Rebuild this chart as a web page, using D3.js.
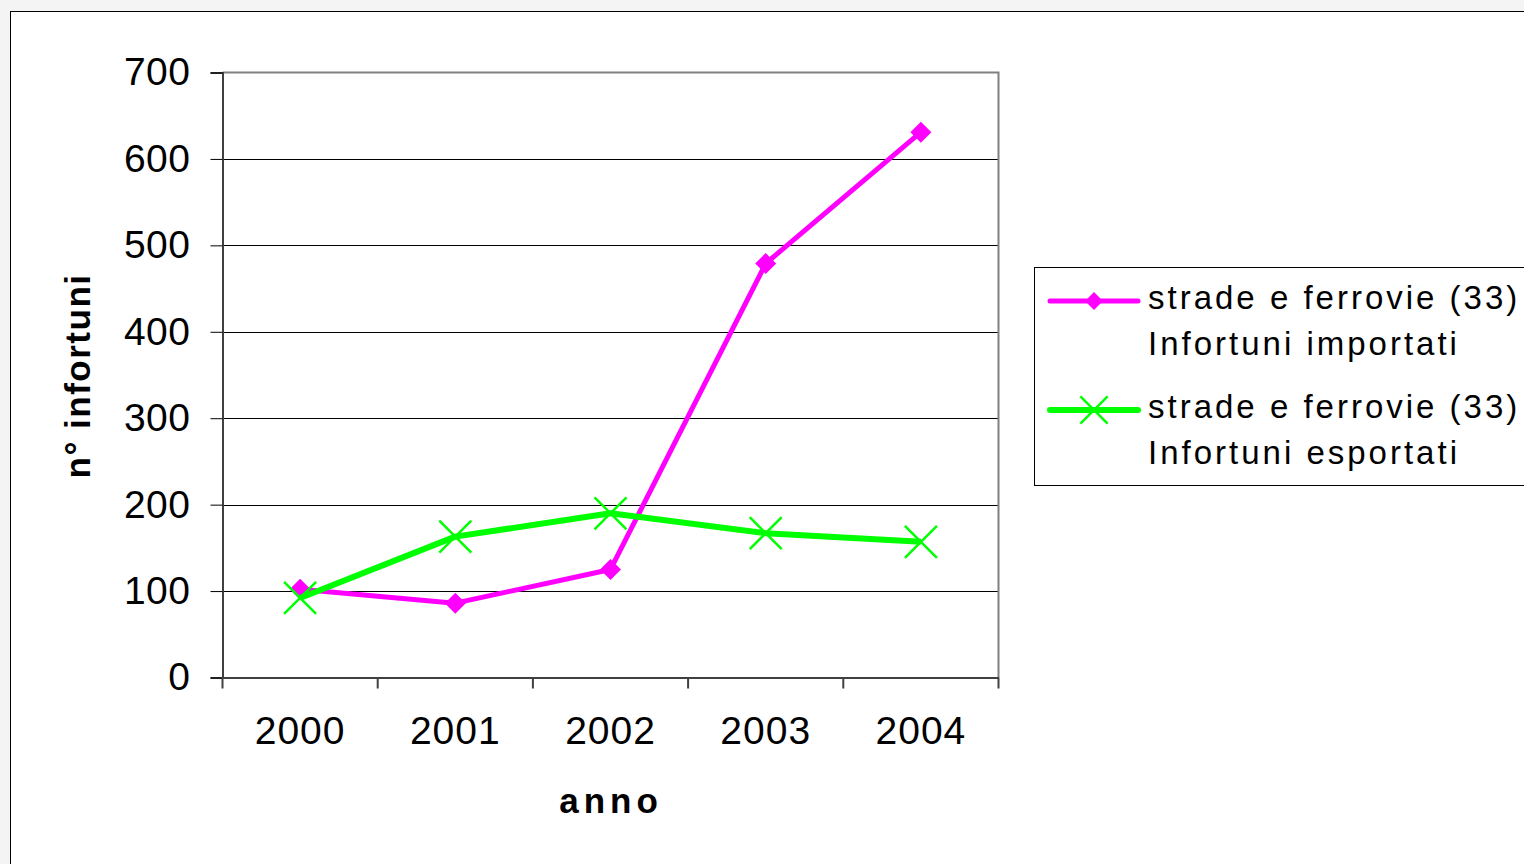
<!DOCTYPE html>
<html>
<head>
<meta charset="utf-8">
<script src="https://cdn.jsdelivr.net/npm/d3@7"></script>
<style>
  html, body { margin: 0; padding: 0; background: #f4f4f4; }
  svg { display: block; font-family: "Liberation Sans", Arial, sans-serif; }
</style>
</head>
<body>
<svg id="chart" width="1524" height="864"></svg>
<script>
// Years on the category axis
const anni = ["2000", "2001", "2002", "2003", "2004"];
// Accidents per year, roads and railways (33)
const importati = [102, 86, 125, 479, 631];
const esportati = [92, 163, 190, 167, 157];
// Value axis ticks
const yTicks = [0, 100, 200, 300, 400, 500, 600, 700];

const series = [
  { nome: ["strade e ferrovie (33)", "Infortuni importati"], valori: importati, colore: "#ff00ff", marker: "diamond", width: 5 },
  { nome: ["strade e ferrovie (33)", "Infortuni esportati"], valori: esportati, colore: "#00ff00", marker: "x", width: 6 }
];

const svg = d3.select("#chart");

// chart frame
svg.append("rect").attr("x", 10.5).attr("y", 11.5).attr("width", 1530).attr("height", 870)
  .attr("fill", "#ffffff").attr("stroke", "#000").attr("stroke-width", 1);

const plot = { left: 222.5, top: 72.5, right: 998.5, bottom: 677.5 };

const x = d3.scaleBand().domain(anni).range([plot.left, plot.right]).padding(0);
const y = d3.scaleLinear().domain([0, 700]).range([plot.bottom, plot.top]);

// horizontal gridlines
svg.append("g").selectAll("line").data(yTicks.filter(t => t > 0 && t < 700)).join("line")
  .attr("x1", plot.left).attr("x2", plot.right)
  .attr("y1", d => Math.round(y(d)) + 0.5).attr("y2", d => Math.round(y(d)) + 0.5)
  .attr("stroke", "#000").attr("stroke-width", 1);

// plot border top/right in grey
svg.append("path")
  .attr("d", `M${plot.left},${plot.top}H${plot.right}V${plot.bottom}`)
  .attr("fill", "none").attr("stroke", "#808080").attr("stroke-width", 2);

// y axis
const yAxis = svg.append("g").attr("transform", `translate(${plot.left},0)`)
  .call(d3.axisLeft(y).tickValues(yTicks).tickSize(12).tickPadding(20).tickFormat(d3.format("d")));
yAxis.select(".domain").attr("stroke", "#404040").attr("stroke-width", 2);
yAxis.selectAll(".tick line").attr("stroke", "#000");
yAxis.selectAll(".tick text").attr("font-size", 39).attr("fill", "#000").attr("letter-spacing", 0.5)
  .attr("font-family", "Liberation Sans, Arial, sans-serif");

// x axis with ticks on the category boundaries
const xAxis = svg.append("g").attr("transform", `translate(0,${plot.bottom})`)
  .call(d3.axisBottom(x).tickSize(0).tickPadding(39));
xAxis.select(".domain").attr("stroke", "#404040").attr("stroke-width", 2);
xAxis.selectAll(".tick text").attr("font-size", 39).attr("fill", "#000").attr("letter-spacing", 1)
  .attr("font-family", "Liberation Sans, Arial, sans-serif");
const bounds = anni.map(a => x(a)).concat([x(anni[anni.length - 1]) + x.bandwidth()]);
svg.append("g").selectAll("line").data(bounds).join("line")
  .attr("x1", d => d).attr("x2", d => d)
  .attr("y1", plot.bottom).attr("y2", plot.bottom + 11)
  .attr("stroke", "#404040").attr("stroke-width", 2);

// axis titles
svg.append("text").attr("x", 611).attr("y", 813).attr("text-anchor", "middle")
  .attr("font-size", 35).attr("font-weight", "bold").attr("letter-spacing", 5)
  .text("anno");
svg.append("text").attr("transform", "translate(90,376) rotate(-90)").attr("text-anchor", "middle")
  .attr("font-size", 35).attr("font-weight", "bold").attr("letter-spacing", 1.5)
  .text("n° infortuni");

// lines and markers
const line = d3.line().x((d, i) => x(anni[i]) + x.bandwidth() / 2).y(d => y(d));

function drawMarker(g, type, cx, cy, colore, scale) {
  if (type === "diamond") {
    const s = 10.5 * scale;
    g.append("path").attr("d", `M${cx},${cy - s}L${cx + s},${cy}L${cx},${cy + s}L${cx - s},${cy}Z`)
      .attr("fill", colore);
  } else {
    const s = 16 * scale;
    g.append("path").attr("d", `M${cx - s},${cy - s}L${cx + s},${cy + s}M${cx - s},${cy + s}L${cx + s},${cy - s}`)
      .attr("stroke", colore).attr("stroke-width", 2.5).attr("fill", "none");
  }
}

series.forEach(s => {
  const g = svg.append("g");
  g.append("path").datum(s.valori).attr("d", line)
    .attr("fill", "none").attr("stroke", s.colore).attr("stroke-width", s.width)
    .attr("stroke-linejoin", "round");
  s.valori.forEach((v, i) => drawMarker(g, s.marker, x(anni[i]) + x.bandwidth() / 2, y(v), s.colore, 1));
});

// legend
const leg = svg.append("g");
leg.append("rect").attr("x", 1034.5).attr("y", 267.5).attr("width", 520).attr("height", 218)
  .attr("fill", "#fff").attr("stroke", "#000").attr("stroke-width", 1);
series.forEach((s, i) => {
  const cy = 301 + i * 109;
  leg.append("line").attr("x1", 1050).attr("x2", 1138).attr("y1", cy).attr("y2", cy)
    .attr("stroke", s.colore).attr("stroke-width", s.width).attr("stroke-linecap", "round");
  drawMarker(leg, s.marker, 1094, cy, s.colore, 0.85);
  s.nome.forEach((t, j) => {
    leg.append("text").attr("x", 1148).attr("y", cy + 8 + j * 46)
      .attr("font-size", 33).attr("letter-spacing", 3).attr("fill", "#000").text(t);
  });
});
</script>
</body>
</html>
